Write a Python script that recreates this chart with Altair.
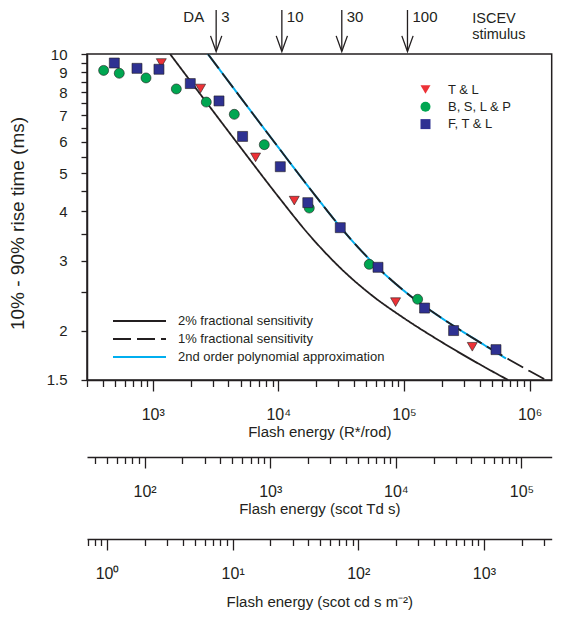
import altair as alt
import pandas as pd

FONT = "Liberation Sans"
INK = "#231f20"

# ---------------- data (Flash energy in R*/rod, rise time in ms) ----------------
series_names = ["T & L", "B, S, L & P", "F, T & L"]
series_colors = ["#ED3237", "#00A651", "#2E3192"]
series_shapes = ["triangle-down", "circle", "square"]
series_sizes = [100, 100, 80]

tl_energy = [1171, 2406, 6593, 13400, 85800, 350000]
tl_rise = [9.49, 8.18, 5.48, 4.26, 2.36, 1.82]

bslp_energy = [407, 542, 885, 1542, 2671, 4463, 7733, 17640, 52980, 128500]
bslp_rise = [9.09, 8.94, 8.70, 8.16, 7.56, 7.04, 5.90, 4.08, 2.94, 2.40]

ftl_energy = [495, 750, 1122, 1992, 3372, 5195, 10370, 17170, 31130, 62150,
              146000, 248500, 540400]
ftl_rise = [9.49, 9.20, 9.15, 8.42, 7.61, 6.19, 5.19, 4.21, 3.64, 2.89,
            2.28, 2.00, 1.79]

curve_names = ["2% fractional sensitivity", "1% fractional sensitivity",
               "2nd order polynomial approximation"]
curve_colors = [INK, INK, "#00AEEF"]
curve_dashes = [[1, 0], [18, 6], [1, 0]]

sens2_energy = [1375, 2500, 5000, 10000, 17750, 31500, 56000, 100000, 200000,
                500000, 675000]
sens2_rise = [10.0, 7.77, 5.81, 4.36, 3.48, 2.87, 2.45, 2.15, 1.87, 1.58, 1.50]

sens1_energy = [2750, 5000, 10000, 20000, 35500, 63000, 112000, 200000, 400000,
                1000000, 1350000]
sens1_rise = [10.0, 7.77, 5.81, 4.36, 3.48, 2.87, 2.45, 2.15, 1.87, 1.58, 1.50]

poly_energy = [2750, 5000, 10000, 20000, 35500, 63000, 112000, 200000, 400000, 650000]
poly_rise = [10.0, 7.77, 5.81, 4.36, 3.48, 2.87, 2.45, 2.15, 1.87, 1.70]

# ISCEV stimulus strengths and unit conversions (R*/rod per unit)
iscev_values = [3, 10, 30, 100]
iscev_labels = ["3", "10", "30", "100"]
R_PER_ISCEV = 1067
R_PER_TD = 8.62
R_PER_CD = 433

E_MIN, E_MAX = 300, 1.5e6
T_MIN, T_MAX = 1.5, 10
ISCEV_TEXT_ENERGY = 350000

# ---------------- tables ----------------
points = pd.DataFrame({
    "energy": tl_energy + bslp_energy + ftl_energy,
    "rise": tl_rise + bslp_rise + ftl_rise,
    "series": [series_names[0]] * len(tl_energy) + [series_names[1]] * len(bslp_energy)
              + [series_names[2]] * len(ftl_energy),
})
black_lines = pd.DataFrame({
    "energy": sens2_energy + sens1_energy,
    "rise": sens2_rise + sens1_rise,
    "curve": [curve_names[0]] * len(sens2_energy) + [curve_names[1]] * len(sens1_energy),
})
cyan_line = pd.DataFrame({"energy": poly_energy, "rise": poly_rise,
                          "curve": [curve_names[2]] * len(poly_energy)})
iscev = pd.DataFrame({"iscev": iscev_values, "label": iscev_labels})


def log_ticks(lo, hi):
    out = []
    for e in range(-1, 8):
        for m in range(1, 10):
            v = m * 10 ** e
            if lo * 0.999 <= v <= hi * 1.001:
                out.append(v)
    return out


MAJOR = "abs(log(datum.value)/LN10 - round(log(datum.value)/LN10)) < 0.001"
SUP_LABEL = (MAJOR + " ? '10' + substring('\u2070\u00b9\u00b2\u00b3\u2074\u2075\u2076\u2077\u2078\u2079', "
             "round(log(datum.value)/LN10), round(log(datum.value)/LN10) + 1) : ''")
TICK_SIZE = {"condition": {"test": MAJOR, "value": 11}, "value": 6.5}


def x_axis(title, values, title_pad):
    return alt.Axis(values=values, labelExpr=SUP_LABEL, tickSize=TICK_SIZE,
                    title=title, labelFontSize=16, titleFontSize=15,
                    labelPadding=16, titlePadding=title_pad, labelFlush=False,
                    labelOverlap=False, domainWidth=1.5, tickWidth=1.3)


xscale = alt.Scale(type="log", domain=[E_MIN, E_MAX], nice=False)
xaxis = x_axis("Flash energy  (R*/rod)", log_ticks(E_MIN, E_MAX), 2)
yscale = alt.Scale(type="log", domain=[T_MIN, T_MAX], nice=False)
y_vals = [1.5 + 0.5 * i for i in range(18)]
yaxis = alt.Axis(values=y_vals,
                 labelExpr="(datum.value == 1.5 || datum.value == round(datum.value)) ? format(datum.value, '~g') : ''",
                 tickSize=6, labelFontSize=15, labelPadding=14,
                 title="10% - 90%  rise time (ms)", titleFontSize=19,
                 titleX=-69, titleY=169, titleAngle=270, titleBaseline="middle",
                 titleAlign="center", domainWidth=1.5, tickWidth=1.3)

X = alt.X("energy:Q", scale=xscale, axis=xaxis)
Y = alt.Y("rise:Q", scale=yscale, axis=yaxis)

line_legend = alt.Legend(title=None, orient="none", legendX=25, legendY=258,
                         symbolType="stroke", symbolSize=2809, symbolStrokeWidth=2,
                         labelFontSize=13, labelOffset=11, rowPadding=0, clipHeight=18,
                         padding=0, labelLimit=400)
stroke_scale = alt.Scale(domain=curve_names, range=curve_colors)
dash_scale = alt.Scale(domain=curve_names, range=curve_dashes)

cyan_layer = alt.Chart(cyan_line).mark_line(strokeWidth=2, clip=True,
                                            interpolate="monotone").encode(
    x=X, y=Y,
    stroke=alt.Stroke("curve:N", scale=stroke_scale, legend=line_legend),
    strokeDash=alt.StrokeDash("curve:N", scale=dash_scale, legend=line_legend),
)
black_layer = alt.Chart(black_lines).mark_line(strokeWidth=1.8, clip=True,
                                               interpolate="monotone").encode(
    x=X, y=Y,
    stroke=alt.Stroke("curve:N", scale=stroke_scale, legend=line_legend),
    strokeDash=alt.StrokeDash("curve:N", scale=dash_scale, legend=line_legend),
)

marker_legend = alt.Legend(title=None, orient="none", legendX=332, legendY=29,
                           labelFontSize=13, labelOffset=16, rowPadding=3.3, padding=0,
                           symbolStrokeColor=INK, symbolStrokeWidth=0.6, symbolOpacity=1)
point_layer = alt.Chart(points).mark_point(filled=True, opacity=1, stroke=INK,
                                           strokeWidth=0.6).encode(
    x=X, y=Y,
    fill=alt.Fill("series:N", scale=alt.Scale(domain=series_names, range=series_colors),
                  legend=marker_legend),
    shape=alt.Shape("series:N", scale=alt.Scale(domain=series_names, range=series_shapes),
                    legend=marker_legend),
    size=alt.Size("series:N", scale=alt.Scale(domain=series_names, range=series_sizes),
                  legend=marker_legend),
)

arrow_base = alt.Chart(iscev).transform_calculate(energy=f"datum.iscev * {R_PER_ISCEV}")
arrow_rules = arrow_base.mark_rule(color=INK, strokeWidth=1.3).encode(
    x=X, y=alt.value(-44), y2=alt.value(-3))
arrow_heads = arrow_base.mark_point(shape="M-0.36,-1L0,0L0.36,-1", filled=False,
                                    stroke=INK, strokeWidth=1.3, size=980,
                                    opacity=1).encode(x=X, y=alt.value(-2.5))
arrow_text = arrow_base.mark_text(align="left", dx=5, baseline="alphabetic", fontSize=15,
                                  color=INK).encode(x=X, y=alt.value(-32), text="label:N")
da_text = arrow_base.transform_filter("datum.iscev == 3").mark_text(
    align="right", dx=-12, baseline="alphabetic", fontSize=15, color=INK).encode(
    x=X, y=alt.value(-32), text=alt.value("DA"))
iscev_text = alt.Chart(pd.DataFrame({"energy": [ISCEV_TEXT_ENERGY]})).mark_text(
    align="left", baseline="alphabetic", fontSize=14.5, color=INK, lineBreak="\n",
    lineHeight=16).encode(x=X, y=alt.value(-31), text=alt.value("ISCEV\nstimulus"))

main = alt.layer(cyan_layer, black_layer, point_layer, arrow_rules, arrow_heads,
                 arrow_text, da_text, iscev_text).properties(
    width=464.7, height=326,
    view=alt.ViewBackground(stroke=INK, strokeWidth=1.5))

# secondary energy axes
td_lo, td_hi = E_MIN / R_PER_TD, E_MAX / R_PER_TD
cd_lo, cd_hi = E_MIN / R_PER_CD, E_MAX / R_PER_CD
td_panel = alt.Chart(pd.DataFrame({"v": [100, 1000]})).mark_point(opacity=0).encode(
    x=alt.X("v:Q", scale=alt.Scale(type="log", domain=[td_lo, td_hi], nice=False),
            axis=x_axis("Flash energy  (scot Td s)", log_ticks(td_lo, td_hi), 2))
).properties(width=464.7, height=1, view=alt.ViewBackground(stroke="transparent"))
cd_panel = alt.Chart(pd.DataFrame({"v": [1, 10]})).mark_point(opacity=0).encode(
    x=alt.X("v:Q", scale=alt.Scale(type="log", domain=[cd_lo, cd_hi], nice=False),
            axis=x_axis("Flash energy  (scot cd s m\u207b\u00b2)", log_ticks(cd_lo, cd_hi), 13))
).properties(width=464.7, height=6, view=alt.ViewBackground(stroke="transparent"))

chart = alt.vconcat(main, td_panel, cd_panel, spacing=76, bounds="flush").properties(
    padding={"left": 0, "top": 0, "right": 0, "bottom": 0}
).configure(font=FONT).configure_axis(
    grid=False, domainColor=INK, tickColor=INK, labelColor=INK, titleColor=INK,
    titleFontWeight="normal"
).configure_legend(labelColor=INK)

chart.save("out.html", embed_options={"renderer": "svg", "actions": False})
